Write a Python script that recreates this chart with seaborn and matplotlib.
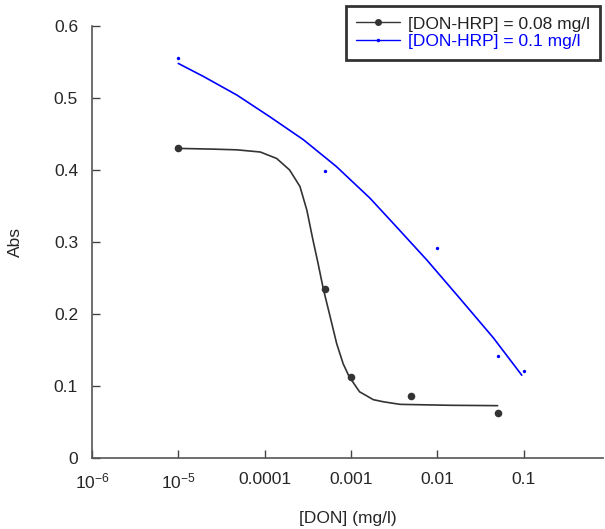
import numpy as np
import pandas as pd
import seaborn as sns
import matplotlib.pyplot as plt
from matplotlib.lines import Line2D

# measured points
conc_a = [1e-5, 5e-4, 1e-3, 5e-3, 5e-2]
abs_a = [0.430, 0.235, 0.113, 0.086, 0.063]
conc_b = [1e-5, 5e-4, 1e-2, 5e-2, 1e-1]
abs_b = [0.555, 0.398, 0.292, 0.141, 0.121]

# fitted curves (log10 of concentration)
fit_a_logx = [-5.0, -4.6, -4.32, -4.05, -3.86, -3.71, -3.59, -3.51, -3.44, -3.38, -3.32,
              -3.24, -3.165, -3.09, -3.02, -2.90, -2.74, -2.62, -2.43, -1.85, -1.30]
fit_a_y = [0.430, 0.429, 0.428, 0.425, 0.416, 0.400, 0.377, 0.344, 0.303, 0.270, 0.235,
           0.196, 0.159, 0.131, 0.113, 0.092, 0.081, 0.078, 0.0745, 0.0732, 0.0727]
fit_b_logx = [-5.0, -4.71, -4.32, -3.94, -3.55, -3.17, -2.78, -2.51, -2.12, -1.74, -1.35, -1.02]
fit_b_y = [0.548, 0.530, 0.504, 0.474, 0.442, 0.405, 0.361, 0.326, 0.275, 0.222, 0.167, 0.115]

xticks = [1e-6, 1e-5, 1e-4, 1e-3, 1e-2, 1e-1]
xticklabels = ['10$^{-6}$', '10$^{-5}$', '0.0001', '0.001', '0.01', '0.1']
yticks = [0, 0.1, 0.2, 0.3, 0.4, 0.5, 0.6]
yticklabels = ['0', '0.1', '0.2', '0.3', '0.4', '0.5', '0.6']

label_a = '[DON-HRP] = 0.08 mg/l'
label_b = '[DON-HRP] = 0.1 mg/l'

sns.set_style('ticks')
plt.rcParams['font.family'] = ['Liberation Sans', 'DejaVu Sans']
plt.rcParams['mathtext.fontset'] = 'custom'
plt.rcParams['mathtext.rm'] = 'Liberation Sans'
plt.rcParams['mathtext.it'] = 'Liberation Sans'

black = '#333333'
blue = '#0000ff'

fig = plt.figure(figsize=(6.05, 5.29), dpi=100)
ax = fig.add_axes([92 / 605, 71 / 529, 511 / 605, 432 / 529])

fa = pd.DataFrame({'x': 10 ** np.array(fit_a_logx), 'y': fit_a_y})
fb = pd.DataFrame({'x': 10 ** np.array(fit_b_logx), 'y': fit_b_y})
sns.lineplot(data=fa, x='x', y='y', ax=ax, color=black, lw=1.2, sort=False)
sns.lineplot(data=fb, x='x', y='y', ax=ax, color=blue, lw=1.2, sort=False)
sns.scatterplot(x=conc_a, y=abs_a, ax=ax, color=black, s=30, edgecolor=black, linewidth=0, zorder=3)
sns.scatterplot(x=conc_b, y=abs_b, ax=ax, color=blue, s=6, edgecolor=blue, linewidth=0, zorder=3)

ax.set_xscale('log')
ax.set_xticks(xticks)
ax.set_xticklabels(xticklabels)
ax.minorticks_off()
ax.set_yticks(yticks)
ax.set_yticklabels(yticklabels)
ax.set_xlim(1e-6, 10 ** (-6 + 511 / 86.3))
ax.set_ylim(0, 0.6)
ax.tick_params(direction='in', length=6, width=1, color='#444444', labelsize=12.5, pad=10)
sns.despine(ax=ax)
for s in ['left', 'bottom']:
    ax.spines[s].set_color('#555555')
    ax.spines[s].set_linewidth(1.2)

ax.set_xlabel('[DON] (mg/l)', fontsize=12.5, labelpad=14)
ax.set_ylabel('Abs', fontsize=12.5, labelpad=22)

handles = [Line2D([], [], color=black, lw=1, marker='o', ms=4),
           Line2D([], [], color=blue, lw=1, marker='o', ms=1.5)]
leg = fig.legend(handles, [label_a, label_b], loc='upper right',
                 bbox_to_anchor=(600 / 605, 1 - 6 / 529), frameon=True, fancybox=False,
                 fontsize=12.5, handlelength=2.5, handletextpad=0.45, borderpad=0.6,
                 labelspacing=0.15, borderaxespad=0)
leg.get_frame().set_edgecolor('black')
leg.get_frame().set_linewidth(2)
leg.get_texts()[0].set_color('#222222')
leg.get_texts()[1].set_color(blue)

fig.savefig('out.png', dpi=100)
